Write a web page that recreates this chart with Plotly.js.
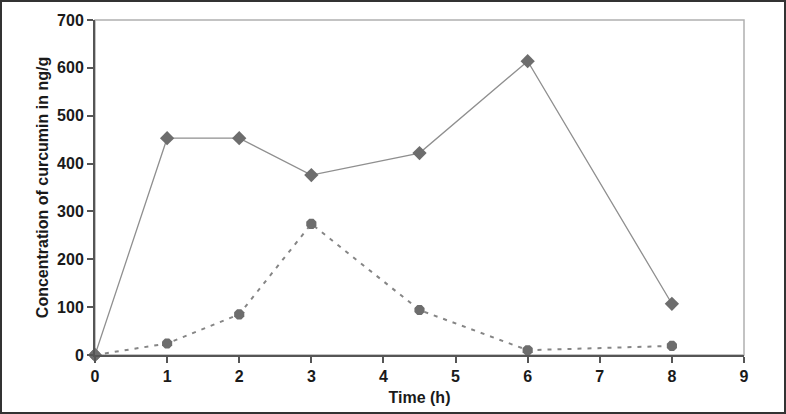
<!DOCTYPE html>
<html>
<head>
<meta charset="utf-8">
<script src="https://cdn.plot.ly/plotly-3.0.1.min.js"></script>
<style>
  body { margin: 0; background: #fff; }
  #chart { width: 786px; height: 414px; }
</style>
</head>
<body>
<div id="chart"></div>
<script>
var timeSolid = [0, 1, 2, 3, 4.5, 6, 8];
var concSolid = [0, 453, 453, 376, 422, 614, 107];
var timeDotted = [0, 1, 2, 3, 4.5, 6, 8];
var concDotted = [0, 24, 85, 274, 94, 10, 19];

var W = 786, H = 414;
var m = {l: 95, r: 42, t: 20, b: 59};
var pw = W - m.l - m.r, ph = H - m.t - m.b;

var data = [
  {
    x: timeSolid, y: concSolid,
    mode: 'lines+markers', type: 'scatter',
    line: {color: '#8f8f8f', width: 1.3},
    marker: {symbol: 'diamond', size: 11, color: '#6d6d6d'},
    cliponaxis: false
  },
  {
    x: timeDotted, y: concDotted,
    mode: 'lines+markers', type: 'scatter',
    line: {color: '#858585', width: 2, dash: '4px,6px'},
    marker: {symbol: 'octagon', size: 11, color: '#6d6d6d'},
    cliponaxis: false
  }
];

var tickFont = {family: 'Liberation Sans, Arial', size: 16, color: '#1a1a1a', weight: 'bold'};

var layout = {
  width: W, height: H,
  margin: m,
  showlegend: false,
  paper_bgcolor: '#fff',
  plot_bgcolor: '#fff',
  font: {family: 'Liberation Sans, Arial'},
  xaxis: {
    range: [0, 9], dtick: 1, tick0: 0,
    showgrid: false, zeroline: false,
    showline: true, linecolor: '#555', linewidth: 2,
    ticks: 'outside', ticklen: 6, tickcolor: '#555', tickwidth: 2,
    tickfont: tickFont,
    title: {text: 'Time (h)', font: {size: 16, color: '#1a1a1a', weight: 'bold'}, standoff: 8}
  },
  yaxis: {
    range: [0, 700], dtick: 100, tick0: 0,
    showgrid: false, zeroline: false,
    showline: true, linecolor: '#555', linewidth: 2,
    ticks: 'outside', ticklen: 6, tickcolor: '#555', tickwidth: 2,
    tickfont: tickFont,
    title: {text: 'Concentration of curcumin in ng/g', font: {size: 16, color: '#1a1a1a', weight: 'bold'}, standoff: 4}
  },
  shapes: [
    {type: 'rect', xref: 'paper', yref: 'paper', x0: 0, x1: 1, y0: 0, y1: 1,
     line: {color: '#b0b0b0', width: 1.5}, layer: 'below'},
    {type: 'rect', xref: 'paper', yref: 'paper',
     x0: -(m.l - 1) / pw, x1: 1 + (m.r - 1) / pw,
     y0: -(m.b - 1) / ph, y1: 1 + (m.t - 1) / ph,
     line: {color: '#333', width: 2}}
  ]
};

Plotly.newPlot('chart', data, layout, {staticPlot: true});
</script>
</body>
</html>
